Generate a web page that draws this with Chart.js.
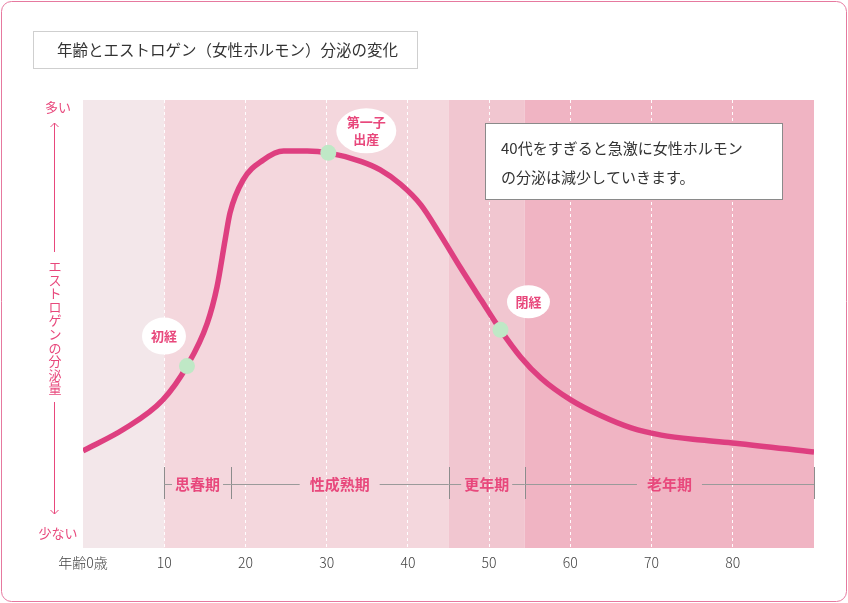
<!DOCTYPE html>
<html lang="ja">
<head>
<meta charset="utf-8">
<title>年齢とエストロゲン（女性ホルモン）分泌の変化</title>
<script src="https://cdn.jsdelivr.net/npm/chart.js@4.4.1/dist/chart.umd.min.js"></script>
<style>
    html, body { margin: 0; padding: 0; background: #fff; }
    #wrap { position: relative; width: 848px; height: 603px; }
</style>
</head>
<body>
<div id="wrap"><canvas id="estrogenChart"></canvas></div>
<script>
// curve: age -> estrogen level (0 = 少ない, 100 = 多い)
const ages   = [0, 5, 9.8, 12.8, 15.3, 16.5, 17.5, 18.1, 19.7, 22.2, 24.7, 27.6, 30.2, 34.2, 36.6, 39.1, 41.6, 44.0, 46.5, 49.0, 51.4, 53.9, 56.4, 60.1, 63.8, 67.5, 71.2, 76.1, 80.3, 90];
const levels = [21.7, 26.5, 33, 40.6, 50.2, 58.3, 68.8, 74.8, 82.1, 86.6, 88.6, 88.6, 88.2, 86.3, 84.4, 81.2, 76.6, 69.9, 62.5, 55.4, 48.7, 42.6, 37.9, 33, 29.5, 26.8, 25.2, 24.1, 23.4, 21.4];

// life events on the curve
const eventNames  = [['初経'], ['第一子', '出産'], ['閉経']];
const eventAges   = [12.8, 30.2, 51.4];
const eventLevels = [40.6, 88.2, 48.7];

// background bands and life phases
const bandEdges  = [0, 10, 45, 54.4, 90];
const phaseNames = ['思春期', '性成熟期', '更年期', '老年期'];
const phaseEdges = [10, 18.2, 45, 54.4, 90];

const xTicks = [0, 10, 20, 30, 40, 50, 60, 70, 80];

const titleText = '年齢とエストロゲン（女性ホルモン）分泌の変化';
const noteLines = ['40代をすぎると急激に女性ホルモン', 'の分泌は減少していきます。'];
const yLabelTop = '多い';
const yLabelBottom = '少ない';
const yLabelMid = 'エストロゲンの分泌量';

const PINK = '#e8487c';
const FONT = '"Noto Sans CJK JP", "Noto Sans", sans-serif';

const bandColors = ['#f3e7ea', '#f4d7dd', '#f1c6d0', '#f0b4c3'];
const bubbleOffsets = [[-23, -30], [38, -22], [28, -28]];
const bubbleSizes = [[22, 18.5], [30, 22.5], [21.5, 16.5]];

function ellipse(ctx, cx, cy, rx, ry) {
    ctx.beginPath();
    ctx.ellipse(cx, cy, rx, ry, 0, 0, Math.PI * 2);
    ctx.fill();
}

function line(ctx, x1, y1, x2, y2) {
    ctx.beginPath();
    ctx.moveTo(x1, y1);
    ctx.lineTo(x2, y2);
    ctx.stroke();
}

const decorPlugin = {
    id: 'decor',
    beforeDraw(chart) {
        const { ctx, chartArea: a, scales: { x } } = chart;
        ctx.save();
        // bands
        for (let i = 0; i < bandColors.length; i++) {
            const l = x.getPixelForValue(bandEdges[i]);
            const r = x.getPixelForValue(bandEdges[i + 1]);
            ctx.fillStyle = bandColors[i];
            ctx.fillRect(l, a.top, r - l, a.bottom - a.top);
        }

        // outer frame
        ctx.strokeStyle = '#e6799f';
        ctx.lineWidth = 1;
        ctx.beginPath();
        ctx.roundRect(1.5, 1.5, chart.width - 3, chart.height - 3, 10);
        ctx.stroke();

        // title box
        ctx.strokeStyle = '#cfcfcf';
        ctx.strokeRect(33.5, 31.5, 384, 37);
        ctx.fillStyle = '#333';
        ctx.font = '15.5px ' + FONT;
        ctx.textBaseline = 'middle';
        ctx.textAlign = 'left';
        ctx.fillText(titleText, 57, 50);

        // y axis legend
        ctx.fillStyle = PINK;
        ctx.strokeStyle = PINK;
        ctx.font = '13px ' + FONT;
        ctx.textAlign = 'center';
        ctx.fillText(yLabelTop, 58, 107);
        ctx.fillText(yLabelBottom, 58, 533);
        line(ctx, 54.5, 123, 54.5, 252);
        line(ctx, 50.5, 127, 54.5, 123);
        line(ctx, 58.5, 127, 54.5, 123);
        line(ctx, 54.5, 402, 54.5, 514);
        line(ctx, 50.5, 510, 54.5, 514);
        line(ctx, 58.5, 510, 54.5, 514);
        const chars = Array.from(yLabelMid);
        chars.forEach((c, i) => ctx.fillText(c, 55, 266 + i * 13.6));
        ctx.restore();
    },
    beforeDatasetsDraw(chart) {
        const { ctx, scales: { x } } = chart;
        const y = 484.5;
        ctx.save();
        ctx.strokeStyle = '#8c8c8c';
        ctx.lineWidth = 1;
        phaseEdges.forEach(v => {
            const px = Math.round(x.getPixelForValue(v)) + 0.5;
            line(ctx, px, 467, px, 499);
        });
        ctx.font = 'bold 15px ' + FONT;
        ctx.textAlign = 'center';
        ctx.textBaseline = 'middle';
        for (let i = 0; i < phaseNames.length; i++) {
            const l = x.getPixelForValue(phaseEdges[i]);
            const r = x.getPixelForValue(phaseEdges[i + 1]);
            const c = (l + r) / 2;
            const w = ctx.measureText(phaseNames[i]).width;
            const pad = (r - l) > 120 ? 10 : 3;
            ctx.strokeStyle = '#9a9a9a';
            line(ctx, l, y, c - w / 2 - pad, y);
            line(ctx, c + w / 2 + pad, y, r, y);
            ctx.fillStyle = PINK;
            ctx.fillText(phaseNames[i], c, y);
        }
        ctx.restore();
    },
    afterDatasetsDraw(chart) {
        const { ctx, scales: { x, y } } = chart;
        ctx.save();
        // event bubbles
        ctx.font = 'bold 13px ' + FONT;
        ctx.textAlign = 'center';
        ctx.textBaseline = 'middle';
        eventNames.forEach((lines, i) => {
            const cx = x.getPixelForValue(eventAges[i]) + bubbleOffsets[i][0];
            const cy = y.getPixelForValue(eventLevels[i]) + bubbleOffsets[i][1];
            ctx.fillStyle = '#fff';
            ellipse(ctx, cx, cy, bubbleSizes[i][0], bubbleSizes[i][1]);
            ctx.fillStyle = PINK;
            lines.forEach((t, j) => ctx.fillText(t, cx, cy + (j - (lines.length - 1) / 2) * 17));
        });

        // note box
        ctx.fillStyle = '#fff';
        ctx.fillRect(485, 123, 298, 77);
        ctx.strokeStyle = '#8a8a8a';
        ctx.lineWidth = 1;
        ctx.strokeRect(485.5, 123.5, 297, 76);
        ctx.fillStyle = '#333';
        ctx.font = '15px ' + FONT;
        ctx.textAlign = 'left';
        noteLines.forEach((t, i) => ctx.fillText(t, 501, 148 + i * 29));
        ctx.restore();
    }
};

new Chart(document.getElementById('estrogenChart'), {
    type: 'line',
    data: {
        datasets: [
            {
                label: 'events',
                data: eventAges.map((a, i) => ({ x: a, y: eventLevels[i] })),
                showLine: false,
                pointRadius: 8,
                pointBackgroundColor: '#bfe8c6',
                pointBorderWidth: 0,
                order: 0
            },
            {
                label: 'estrogen',
                data: ages.map((a, i) => ({ x: a, y: levels[i] })),
                borderColor: '#de3f80',
                borderWidth: 5.5,
                pointRadius: 0,
                cubicInterpolationMode: 'monotone',
                fill: false,
                order: 1
            }
        ]
    },
    options: {
        responsive: true,
        maintainAspectRatio: false,
        animation: false,
        events: [],
        layout: { padding: { left: 83, right: 34, top: 100, bottom: 0 } },
        plugins: { legend: { display: false }, tooltip: { enabled: false } },
        scales: {
            x: {
                type: 'linear',
                min: 0,
                max: 90,
                afterFit(scale) { scale.height = 55; },
                afterBuildTicks(scale) { scale.ticks = xTicks.concat([90]).map(v => ({ value: v })); },
                ticks: {
                    autoSkip: false,
                    maxRotation: 0,
                    padding: 6,
                    color: '#444',
                    font: { family: FONT, size: 14, weight: '300' },
                    callback: v => v === 0 ? '年齢0歳' : (v === 90 ? '' : String(v))
                },
                grid: {
                    drawTicks: false,
                    lineWidth: 1,
                    color: c => (c.tick && (c.tick.value === 0 || c.tick.value === 90)) ? 'rgba(0,0,0,0)' : 'rgba(255,255,255,0.95)'
                },
                border: { display: false, dash: [3, 3] }
            },
            y: { display: false, min: 0, max: 100 }
        }
    },
    plugins: [decorPlugin]
});
</script>
</body>
</html>
